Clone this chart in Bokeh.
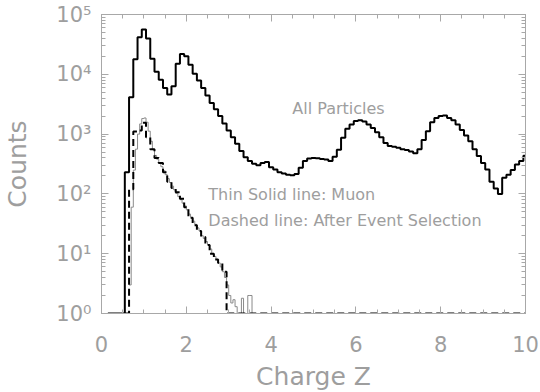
import numpy as np
from bokeh.plotting import figure
from bokeh.models import (Range1d, LinearAxis, LogAxis, SingleIntervalTicker,
                          LogTicker, CustomJSTickFormatter, Label)
from bokeh.embed import file_html
from bokeh.resources import INLINE

# ---------------- data ----------------
# All particles: 0.1-wide bins, centres 0.2 .. 10.0
all_centers = np.round(np.arange(0.2, 10.0001, 0.1), 2)
all_counts = [
    0, 0, 0, 0, 230, 4150, 17800, 41500, 56000, 39800,          # 0.2-1.1
    18200, 11000, 8100, 5900, 4600, 6300, 15000, 21900, 20000, 14500,  # 1.2-2.1
    10200, 7900, 5900, 4400, 3300, 2600, 2000, 1500, 1150, 890,  # 2.2-3.1
    690, 520, 410, 355, 320, 300, 330, 340, 280, 255,            # 3.2-4.1
    230, 220, 210, 205, 215, 275, 355, 390, 400, 395,            # 4.2-5.1
    385, 375, 355, 420, 550, 870, 1230, 1450, 1650, 1700,        # 5.2-6.1
    1620, 1450, 1260, 1070, 890, 710, 630, 615, 590, 560,        # 6.2-7.1
    540, 510, 480, 560, 800, 1120, 1580, 1860, 2000, 2040,       # 7.2-8.1
    1860, 1700, 1450, 1170, 950, 760, 560, 430, 330, 255,        # 8.2-9.1
    160, 123, 100, 186, 210, 250, 310, 355, 435,                 # 9.2-10.0
]

# After event selection: 0.1-wide bins, centres 0.6 .. 10.0
sel_centers = np.round(np.arange(0.6, 10.0001, 0.1), 2)
sel_counts = [
    0, 120, 1100, 1150, 1550, 890, 560, 400, 330, 230,           # 0.6-1.5
    160, 125, 107, 83, 60, 40, 30, 24, 19, 14,                   # 1.6-2.5
    10, 8, 7, 5,                                                 # 2.6-2.9
] + [0] * 71                                                     # 3.0-10.0

# Muons: 0.05-wide bins, centres 0.675 .. 3.575
muon_centers = np.round(np.arange(0.675, 3.6, 0.05), 3)
muon_counts = [
    3, 60, 250, 560, 1000, 1480, 1820, 1860, 1580, 1120,
    760, 550, 440, 380, 330, 285, 245, 210, 180, 155,
    135, 117, 102, 90, 80, 70, 63, 54, 46, 39,
    35, 31, 27, 24, 20, 18, 16, 14, 12, 10,
    9, 8, 7, 6, 5, 4, 3, 2, 1.5, 1.7,
    1.3, 0, 0, 1.8, 0, 0, 2, 2, 0,
]

x_ticks_interval = 2
x_label = "Charge Z"
y_label = "Counts"
texts = ["All Particles", "Thin Solid line: Muon", "Dashed line: After Event Selection"]

TEXT = "#9e9e9e"
AXIS = "#a8a8a8"
FONT = "DejaVu Sans"


def step_xy(centers, counts, width):
    centers = np.asarray(centers, dtype=float)
    counts = np.asarray(counts, dtype=float)
    edges = np.append(centers - width / 2, centers[-1] + width / 2)
    y = np.maximum(np.append(counts, counts[-1]), 1.0)
    return edges, y


p = figure(frame_width=424, frame_height=299,
           x_range=Range1d(0, 10), y_range=Range1d(1, 1e5),
           y_axis_type="log", output_backend="svg", toolbar_location=None,
           min_border_left=99, min_border_right=14, min_border_top=14,
           min_border_bottom=76, background_fill_color="white",
           border_fill_color="white")
p.grid.visible = False
p.outline_line_color = AXIS
p.outline_line_width = 1

sup = CustomJSTickFormatter(code="""
const s = {"0":"\\u2070","1":"\\u00b9","2":"\\u00b2","3":"\\u00b3","4":"\\u2074",
           "5":"\\u2075","6":"\\u2076","-":"\\u207b"};
const e = Math.round(Math.log10(tick));
return "10" + String(e).split("").map(c => s[c]).join("");
""")


def style_axis(ax, labels=True):
    ax.axis_line_color = AXIS
    ax.major_tick_line_color = AXIS
    ax.minor_tick_line_color = AXIS
    ax.major_tick_in = 7
    ax.major_tick_out = 0
    ax.minor_tick_in = 4
    ax.minor_tick_out = 0
    ax.major_label_text_font = FONT
    ax.major_label_text_color = TEXT
    ax.axis_label_text_font = FONT
    ax.axis_label_text_color = TEXT
    ax.axis_label_text_font_style = "normal"
    if not labels:
        ax.formatter = CustomJSTickFormatter(code="return ' ';")
        ax.major_label_text_font_size = "1px"
        ax.major_label_text_color = None
        ax.major_label_standoff = 0


xa = p.xaxis[0]
xa.ticker = SingleIntervalTicker(interval=x_ticks_interval, num_minor_ticks=4)
style_axis(xa)
xa.major_label_text_font_size = "21px"
xa.major_label_standoff = 22
xa.axis_label = x_label
xa.axis_label_text_font_size = "25px"
xa.axis_label_standoff = 7

ya = p.yaxis[0]
ya.ticker = LogTicker(num_minor_ticks=10)
ya.formatter = sup
style_axis(ya)
ya.major_label_text_font_size = "21px"
ya.major_label_standoff = 10
ya.axis_label = y_label
ya.axis_label_text_font_size = "25px"
ya.axis_label_standoff = 21

top = LinearAxis(ticker=SingleIntervalTicker(interval=x_ticks_interval, num_minor_ticks=4))
style_axis(top, labels=False)
p.add_layout(top, "above")
right = LogAxis(ticker=LogTicker(num_minor_ticks=10))
style_axis(right, labels=False)
p.add_layout(right, "right")

mx, my = step_xy(muon_centers, muon_counts, 0.05)
p.step(mx, my, mode="after", line_color="#8a8a8a", line_width=1)
sx, sy = step_xy(sel_centers, sel_counts, 0.1)
p.step(sx, sy, mode="after", line_color="black", line_width=2, line_dash="7 4")
ax_, ay_ = step_xy(all_centers, all_counts, 0.1)
p.step(ax_, ay_, mode="after", line_color="black", line_width=2)

for t, x, y in [(texts[0], 4.5, 2680), (texts[1], 2.52, 98), (texts[2], 2.52, 36)]:
    p.add_layout(Label(x=x, y=y, text=t, text_font=FONT, text_font_size="16px",
                       text_color=TEXT, text_baseline="middle", text_align="left"))

open("out.html", "w", encoding="utf-8").write(file_html(p, INLINE))
